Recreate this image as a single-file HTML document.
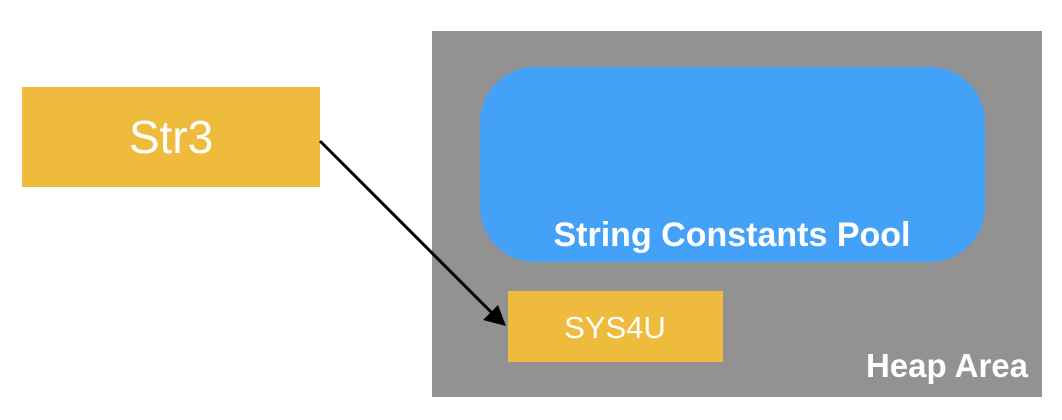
<!DOCTYPE html>
<html><head><style>
body{margin:0;width:1062px;height:420px;background:#fff;overflow:hidden}
</style></head><body>
<svg width="1062" height="420" xmlns="http://www.w3.org/2000/svg" style="display:block">
<rect x="432" y="31" width="610" height="366" fill="#929292"/>
<rect x="480" y="67" width="505" height="195" rx="55" ry="55" fill="#44A1F8"/>
<text x="732" y="246" text-anchor="middle" font-family="Liberation Sans, sans-serif" font-weight="bold" font-size="34" fill="#fff">String Constants Pool</text>
<rect x="22" y="87" width="298" height="100" fill="#EFBB3C"/>
<text x="171" y="153" text-anchor="middle" font-family="Liberation Sans, sans-serif" font-size="46" fill="#fff">Str3</text>
<rect x="508" y="291" width="215" height="71" fill="#EFBB3C"/>
<text x="615" y="338" text-anchor="middle" font-family="Liberation Sans, sans-serif" font-size="31" fill="#fff">SYS4U</text>
<text x="1028" y="377" text-anchor="end" font-family="Liberation Sans, sans-serif" font-weight="bold" font-size="33" fill="#fff">Heap Area</text>
<line x1="320" y1="141" x2="492" y2="313" stroke="#000" stroke-width="3"/>
<polygon points="506,326 483,320 498,305" fill="#000"/>
</svg>
</body></html>
